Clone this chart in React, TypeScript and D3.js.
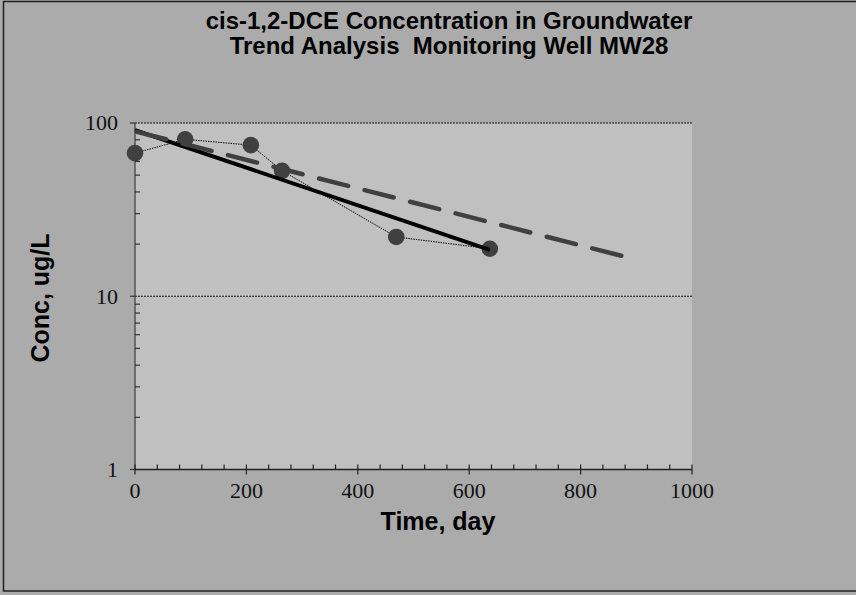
import React from "react";
import * as d3 from "d3";

const titleLines = ["cis-1,2-DCE Concentration in Groundwater", "Trend Analysis  Monitoring Well MW28"];
const days = [0, 90, 208, 264, 469, 637];
const conc = [67, 80.5, 74.5, 53, 22, 18.8];
const trendDays = [0, 880];
const trendConc = [89.5, 16.9];
const xTicks = [0, 200, 400, 600, 800, 1000];
const yTicks = [1, 10, 100];
const xLabel = "Time, day";
const yLabel = "Conc, ug/L";

const W = 856, H = 595;
const L = 135, R = 692, T = 123, B = 469.5;

export default function App() {
  const x = d3.scaleLinear().domain([0, 1000]).range([L, R]);
  const y = d3.scaleLog().domain([1, 100]).range([B, T]);

  // exponential regression (least squares on log10)
  const ly = conc.map((c) => Math.log10(c));
  const mx = d3.mean(days)!;
  const my = d3.mean(ly)!;
  const sxy = d3.sum(days.map((v, i) => (v - mx) * (ly[i] - my)));
  const sxx = d3.sum(days.map((v) => (v - mx) ** 2));
  const slope = sxy / sxx;
  const icpt = my - slope * mx;
  const fitX = [d3.min(days)!, d3.max(days)!];
  const fitPts: [number, number][] = fitX.map((d) => [d, Math.pow(10, icpt + slope * d)]);

  const line = d3
    .line<[number, number]>()
    .x((d) => x(d[0]))
    .y((d) => y(d[1]));

  const dataPts: [number, number][] = days.map((d, i) => [d, conc[i]]);
  const trendPts: [number, number][] = trendDays.map((d, i) => [d, trendConc[i]]);

  const xMinor = d3.range(0, 1001, 40).filter((v) => v % 200 !== 0);
  const yMinor: number[] = [];
  [1, 10].forEach((dec) => {
    for (let k = 2; k <= 9; k++) yMinor.push(dec * k);
  });

  const serif = "'Liberation Serif', 'Times New Roman', serif";
  const sans = "'Liberation Sans', Arial, sans-serif";

  return (
    <svg width={W} height={H} style={{ position: "absolute", left: 0, top: 0 }}>
      <rect x={0} y={0} width={W} height={H} fill="#ababab" />
      <rect x={3.5} y={1.5} width={W + 5} height={589.5} fill="none" stroke="#222" strokeWidth={1.5} />
      <rect x={L} y={T} width={R - L} height={B - T} fill="#c0c0c0" />

      {/* gridlines */}
      {yTicks.slice(1).map((v) => (
        <line key={"g" + v} x1={L} x2={R} y1={y(v)} y2={y(v)} stroke="#111" strokeWidth={1.2} strokeDasharray="2,1" />
      ))}

      {/* title */}
      {titleLines.map((t, i) => (
        <text
          key={t}
          x={449}
          y={29 + i * 25}
          textAnchor="middle"
          fontFamily={sans}
          fontWeight="bold"
          fontSize={24}
          fill="#000"
          style={{ whiteSpace: "pre" }}
        >
          {t}
        </text>
      ))}

      {/* axes */}
      <line x1={L} x2={L} y1={T} y2={B} stroke="#444" strokeWidth={1.3} />
      <line x1={L} x2={R} y1={B} y2={B} stroke="#222" strokeWidth={1.3} />
      {yTicks.map((v) => (
        <g key={"yt" + v}>
          <line x1={L - 5} x2={L} y1={y(v)} y2={y(v)} stroke="#333" strokeWidth={1.2} />
          <text x={118} y={y(v)} dy="0.33em" textAnchor="end" fontFamily={serif} fontSize={22} fill="#111">
            {v}
          </text>
        </g>
      ))}
      {yMinor.map((v) => (
        <line key={"ym" + v} x1={L} x2={L + 5} y1={y(v)} y2={y(v)} stroke="#333" strokeWidth={1.2} />
      ))}
      {xTicks.map((v) => (
        <g key={"xt" + v}>
          <line x1={x(v)} x2={x(v)} y1={B - 5} y2={B + 5} stroke="#222" strokeWidth={1.2} />
          <text x={x(v)} y={498} textAnchor="middle" fontFamily={serif} fontSize={22} fill="#111">
            {v}
          </text>
        </g>
      ))}
      {xMinor.map((v) => (
        <line key={"xm" + v} x1={x(v)} x2={x(v)} y1={B - 5} y2={B} stroke="#222" strokeWidth={1.2} />
      ))}

      {/* data */}
      <path d={line(dataPts)!} fill="none" stroke="#000" strokeWidth={1} strokeDasharray="1.5,1" />
      {dataPts.map((p, i) => (
        <circle key={"c" + i} cx={x(p[0])} cy={y(p[1])} r={8.3} fill="#404040" />
      ))}
      <path d={line(fitPts)!} fill="none" stroke="#000" strokeWidth={4} />
      <path
        d={line(trendPts)!}
        fill="none"
        stroke="#404040"
        strokeWidth={4.5}
        strokeLinecap="round"
        strokeDasharray="30,17"
        strokeDashoffset={-2}
      />

      {/* axis titles */}
      <text x={438} y={530} textAnchor="middle" fontFamily={sans} fontWeight="bold" fontSize={25} fill="#000">
        {xLabel}
      </text>
      <text
        transform={`translate(48.5, 298) rotate(-90)`}
        textAnchor="middle"
        fontFamily={sans}
        fontWeight="bold"
        fontSize={25}
        fill="#000"
      >
        {yLabel}
      </text>
    </svg>
  );
}
